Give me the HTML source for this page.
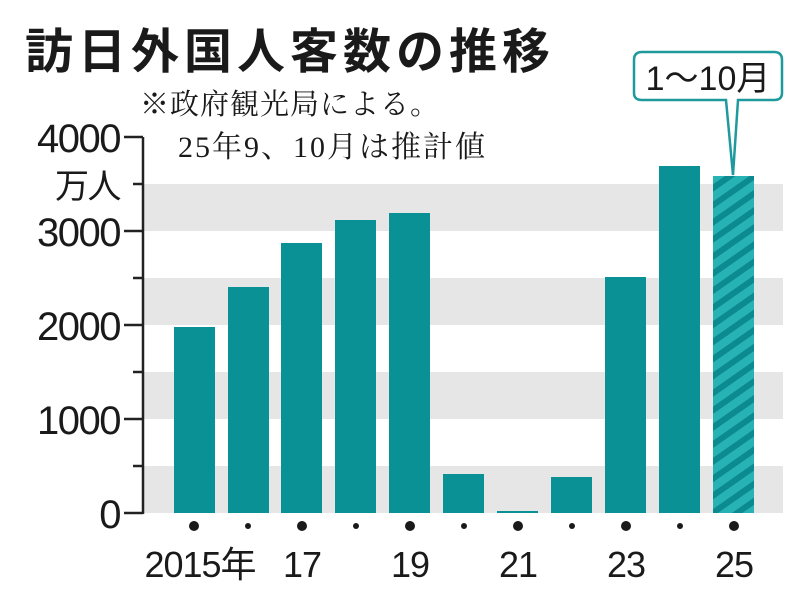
<!DOCTYPE html>
<html><head><meta charset="utf-8"><style>
body{margin:0;background:#fff;}
svg text{font-family:"Liberation Sans","Noto Sans CJK JP",sans-serif;fill:#1a1a1a;}
</style></head><body>
<svg width="808" height="600" viewBox="0 0 808 600" xmlns="http://www.w3.org/2000/svg">
<defs>
<pattern id="h" patternUnits="userSpaceOnUse" width="14" height="14" patternTransform="rotate(-35)">
<rect width="14" height="14" fill="#27b3b6"/>
<rect width="14" height="6" fill="#0b8a90"/>
</pattern>
</defs>
<rect width="808" height="600" fill="#fff"/>
<g fill="#e6e6e6">
<rect x="143" y="466" width="640" height="47"/>
<rect x="143" y="372" width="640" height="47"/>
<rect x="143" y="278" width="640" height="47"/>
<rect x="143" y="184" width="640" height="47"/>
</g>
<g stroke="#222" stroke-width="2.5" fill="none">
<line x1="143" y1="137" x2="143" y2="514"/>
<line x1="124" y1="513" x2="143" y2="513"/>
<line x1="124" y1="419" x2="143" y2="419"/>
<line x1="124" y1="325" x2="143" y2="325"/>
<line x1="124" y1="231" x2="143" y2="231"/>
<line x1="124" y1="137" x2="143" y2="137"/>
<line x1="133" y1="466" x2="143" y2="466"/>
<line x1="133" y1="372" x2="143" y2="372"/>
<line x1="133" y1="278" x2="143" y2="278"/>
<line x1="133" y1="184" x2="143" y2="184"/>
</g>
<g font-size="40" text-anchor="end" style="letter-spacing:-1.5px">
<text x="120" y="528" transform="scale(1,1)">0</text>
<text x="120" y="434">1000</text>
<text x="120" y="340">2000</text>
<text x="120" y="246">3000</text>
<text x="120" y="152">4000</text>
<text x="120" y="198" font-size="34">万人</text>
</g>
<g fill="#0a9196">
<rect x="174" y="327" width="41" height="186"/>
<rect x="228" y="287" width="41" height="226"/>
<rect x="281" y="243" width="41" height="270"/>
<rect x="335" y="220" width="41" height="293"/>
<rect x="389" y="213" width="41" height="300"/>
<rect x="443" y="474" width="41" height="39"/>
<rect x="497" y="511" width="41" height="2"/>
<rect x="551" y="477" width="41" height="36"/>
<rect x="605" y="277" width="41" height="236"/>
<rect x="659" y="166" width="41" height="347"/>
</g>
<rect x="713" y="176" width="41" height="337" fill="url(#h)"/>
<g fill="#1a1a1a">
<circle cx="194" cy="526" r="5"/><circle cx="248" cy="526" r="3"/>
<circle cx="302" cy="526" r="5"/><circle cx="356" cy="526" r="3"/>
<circle cx="410" cy="526" r="5"/><circle cx="464" cy="526" r="3"/>
<circle cx="518" cy="526" r="5"/><circle cx="572" cy="526" r="3"/>
<circle cx="626" cy="526" r="5"/><circle cx="680" cy="526" r="3"/>
<circle cx="734" cy="526" r="5"/>
</g>
<g font-size="36" text-anchor="middle" style="letter-spacing:-1px">
<text x="200" y="577">2015年</text>
<text x="302" y="577">17</text>
<text x="410" y="577">19</text>
<text x="518" y="577">21</text>
<text x="626" y="577">23</text>
<text x="734" y="577">25</text>
</g>
<text x="25" y="68" font-size="48" font-weight="bold" style="letter-spacing:5px">訪日外国人客数の推移</text>
<text x="140" y="114" font-size="29" style="font-family:'Liberation Serif','Noto Serif CJK SC',serif;letter-spacing:1px">※政府観光局による。</text>
<text x="178" y="157" font-size="30" style="font-family:'Liberation Serif','Noto Serif CJK SC',serif;letter-spacing:2px">25年9、10月は推計値</text>
<path d="M642,52 H774 Q782,52 782,60 V93 Q782,100 774,100 H738 L733,175 L726,100 H642 Q634,100 634,93 V60 Q634,52 642,52 Z" fill="#fff" stroke="#1e9a9e" stroke-width="2.5"/>
<text x="708" y="90" font-size="34" text-anchor="middle">1～10月</text>
</svg>
</body></html>
